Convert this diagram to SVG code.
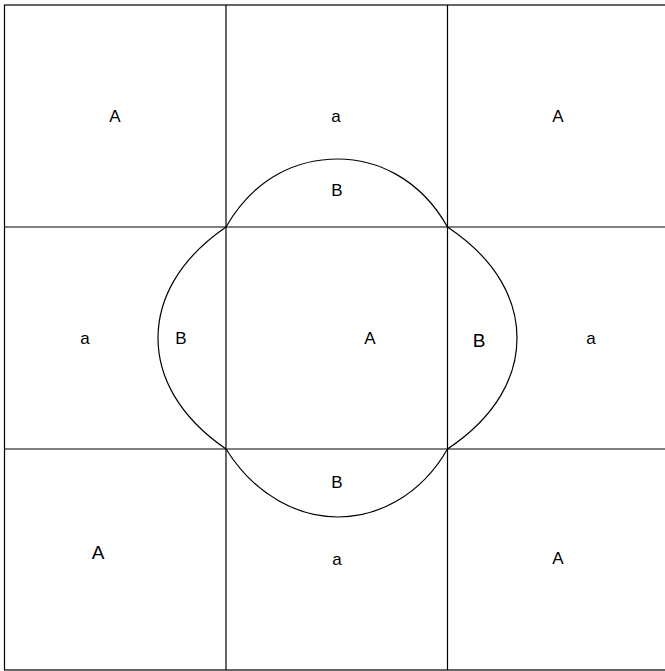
<svg xmlns="http://www.w3.org/2000/svg" width="665" height="671" viewBox="0 0 665 671">
<style>
.ln{fill:none;stroke:#000;stroke-width:1.2}
.t{font-family:"Liberation Sans",Arial,sans-serif;font-size:17px;fill:#000;text-anchor:middle}
.tb{font-size:19px}
</style>
<rect width="665" height="671" fill="#fff"/>
<g id="grid">
<rect class="ln" x="4.5" y="5" width="665" height="665"/>
<line class="ln" x1="226" y1="5" x2="226" y2="670"/>
<line class="ln" x1="447.5" y1="5" x2="447.5" y2="670"/>
<line class="ln" x1="4.5" y1="227" x2="665" y2="227"/>
<line class="ln" x1="4.5" y1="449" x2="665" y2="449"/>
</g>
<g id="connectors">
<path class="ln" d="M226,227 C256,175 300,159 338,159 C376,159 420,178 447.5,227"/>
<path class="ln" d="M226,449 C256,497 300,517 338,517 C376,517 420,497 447.5,449"/>
<path class="ln" d="M226,227 C178,260 158,300 158,338 C158,376 178,416 226,449"/>
<path class="ln" d="M447.5,227 C497,260 517,300 517,338 C517,376 497,416 447.5,449"/>
</g>
<g id="labels">
<text class="t" x="115" y="122">A</text>
<text class="t" x="336" y="122">a</text>
<text class="t" x="558" y="122">A</text>
<text class="t" x="337" y="196">B</text>
<text class="t" x="85" y="344">a</text>
<text class="t" x="181" y="344">B</text>
<text class="t" x="370" y="344">A</text>
<text class="t tb" x="479" y="347">B</text>
<text class="t" x="591" y="344">a</text>
<text class="t" x="337" y="488">B</text>
<text class="t tb" x="98" y="559">A</text>
<text class="t" x="337" y="565">a</text>
<text class="t" x="558" y="564">A</text>
</g>
</svg>
